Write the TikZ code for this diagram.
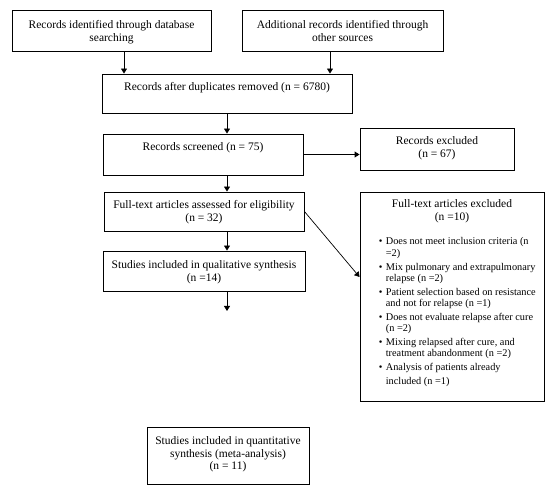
\documentclass[tikz,border=0pt]{standalone}
\usepackage{fontspec}
\setmainfont{Liberation Serif}
\usetikzlibrary{arrows.meta,positioning}

\newcommand{\itm}{\textbullet\hspace{3.5pt}}
\newcommand{\cnt}{\hphantom{\textbullet\hspace{3.5pt}}}

\begin{document}
\begin{tikzpicture}[
  x=1pt, y=-1pt,
  box/.style={draw, line width=0.9pt, inner sep=0pt},
  txt/.style={align=center, inner sep=0pt, font=\fontsize{11.5}{12.5}\selectfont},
  list/.style={align=left, inner sep=0pt, font=\fontsize{10.3}{11.2}\selectfont},
  arr/.style={-{Triangle[length=5pt,width=6pt]}, line width=0.9pt}
]
\useasboundingbox (0,0) rectangle (558,492);
% boxes
\node[box, minimum width=199pt, minimum height=41pt] (db) at (111.5,30.5) {};
\node[box, minimum width=201pt, minimum height=41pt] (other) at (342.5,30.5) {};
\node[box, minimum width=250pt, minimum height=39pt] (dup) at (227,93.5) {};
\node[box, minimum width=200pt, minimum height=41pt] (screen) at (203,154.5) {};
\node[box, minimum width=154pt, minimum height=42pt] (recexcl) at (437,149) {};
\node[box, minimum width=200pt, minimum height=39pt] (full) at (204,211.5) {};
\node[box, minimum width=202pt, minimum height=40pt] (qual) at (204,271) {};
\node[box, minimum width=184pt, minimum height=209pt] (fullexcl) at (452,296.5) {};
\node[box, minimum width=162pt, minimum height=57pt] (quant) at (228,455.5) {};
% texts
\node[txt, below=11pt of db.north] (dbtext) {Records identified through database\\searching};
\node[txt, below=11pt of other.north] (othertext) {Additional records identified through\\other sources};
\node[txt, below=9pt of dup.north] (duptext) {Records after duplicates removed (n = 6780)};
\node[txt, below=9pt of screen.north] (screentext) {Records screened (n = 75)};
\node[txt, below=9pt of recexcl.north] (recexcltext) {Records excluded\\(n = 67)};
\node[txt, below=9pt of full.north] (fulltext) {Full-text articles assessed for eligibility\\(n = 32)};
\node[txt, below=10pt of qual.north] (qualtext) {Studies included in qualitative synthesis\\(n =14)};
\node[txt, below=8pt of fullexcl.north] (fullexcltext) {Full-text articles excluded\\(n =10)};
\node[list, below right=46pt and 19pt of fullexcl.north west] (reasons) {%
  \itm Does not meet inclusion criteria (n\\
  \cnt =2)\\[2.8pt]
  \itm Mix pulmonary and extrapulmonary\\
  \cnt relapse (n =2)\\[2.8pt]
  \itm Patient selection based on resistance\\
  \cnt and not for relapse (n =1)\\[2.8pt]
  \itm Does not evaluate relapse after cure\\
  \cnt (n =2)\\[2.8pt]
  \itm Mixing relapsed after cure, and\\
  \cnt treatment abandonment (n =2)\\[2.8pt]
  \itm Analysis of patients already\\[2.8pt]
  \cnt included (n =1)};
\node[txt, below=10pt of quant.north] (quanttext) {Studies included in quantitative\\synthesis (meta-analysis)\\(n = 11)};
% connectors
\coordinate (spine) at (227,0);
\coordinate (gap) at (227,311);
\draw[arr] ([xshift=12.5pt]db.south) -- ([xshift=12.5pt]db.south |- dup.north);
\draw[arr] ([xshift=-12.5pt]other.south) -- ([xshift=-12.5pt]other.south |- dup.north);
\draw[arr] (dup.south -| spine) -- (screen.north -| spine);
\draw[arr] (screen.east) -- (screen.east -| recexcl.west);
\draw[arr] (screen.south -| spine) -- (full.north -| spine);
\draw[arr] (full.south -| spine) -- (qual.north -| spine);
\draw[arr] (qual.south -| spine) -- (gap);
\draw[arr, line width=0.7pt] (full.east) -- ([yshift=19.5pt]fullexcl.west);
\end{tikzpicture}
\end{document}
